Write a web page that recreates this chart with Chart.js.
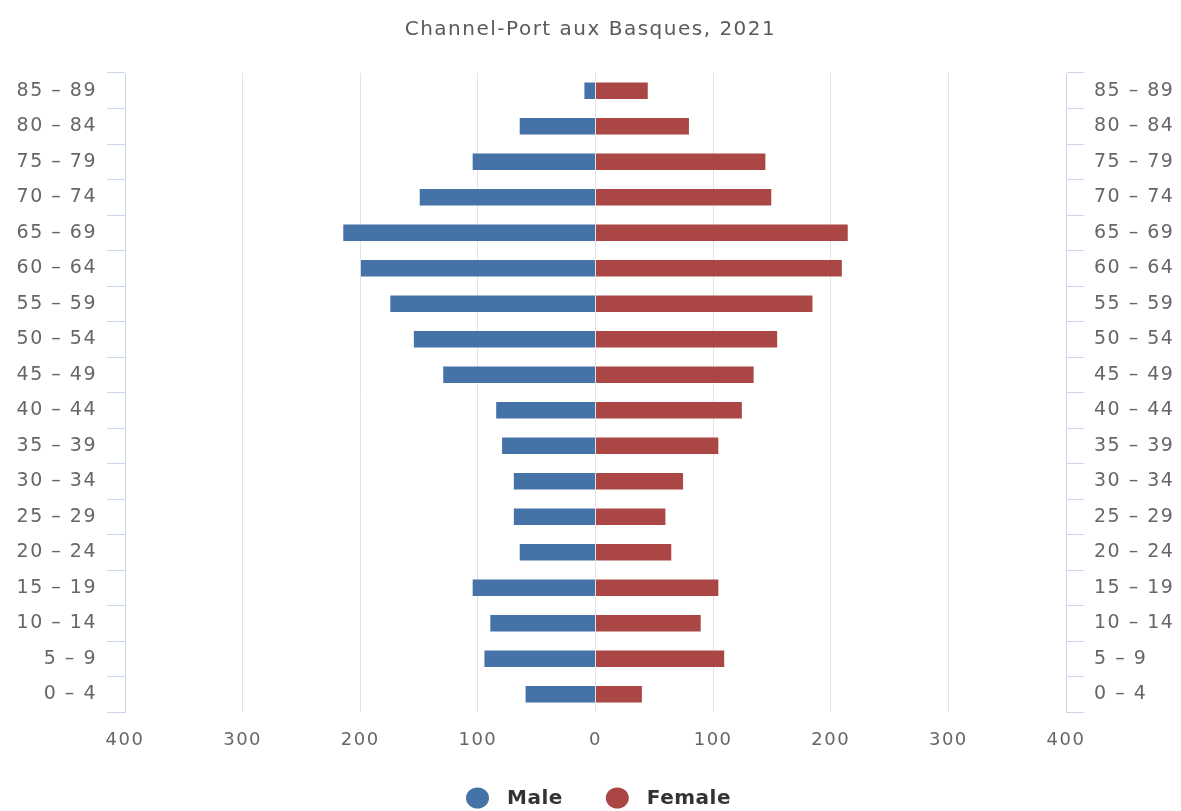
<!DOCTYPE html>
<html>
<head>
<meta charset="utf-8">
<title>Channel-Port aux Basques, 2021</title>
<script src="https://cdn.jsdelivr.net/npm/chart.js@4.4.1/dist/chart.umd.min.js"></script>
<style>
  html, body { margin: 0; padding: 0; background: #ffffff; }
  #pyramid { display: block; }
</style>
</head>
<body>
<canvas id="pyramid" width="1181" height="811"></canvas>
<script>
// Age groups, youngest first (drawn bottom to top)
const ageGroups = ['0 – 4', '5 – 9', '10 – 14', '15 – 19', '20 – 24', '25 – 29', '30 – 34',
  '35 – 39', '40 – 44', '45 – 49', '50 – 54', '55 – 59', '60 – 64', '65 – 69',
  '70 – 74', '75 – 79', '80 – 84', '85 – 89'];

// Population counts per age group
const male   = [60, 95, 90, 105, 65, 70, 70, 80, 85, 130, 155, 175, 200, 215, 150, 105, 65, 10];
const female = [40, 110, 90, 105, 65, 60, 75, 105, 125, 135, 155, 185, 210, 215, 150, 145, 80, 45];

// Value axis ticks (shown as absolute numbers on both sides of zero)
const valueTicks = [-400, -300, -200, -100, 0, 100, 200, 300, 400];

const chartTitle = 'Channel-Port aux Basques, 2021';
const seriesNames = ['Male', 'Female'];
const seriesColors = ['#4572A7', '#AA4643'];

const FONT = '"DejaVu Sans", Verdana, sans-serif';
const LABEL_COLOR = '#666666';
const AXIS_COLOR = '#ccd6eb';
const GRID_COLOR = '#e3e3e3';

// Slightly airy text, applied before every layout and draw pass
const textSpacing = {
  id: 'textSpacing',
  beforeLayout(chart) { chart.ctx.letterSpacing = '1.5px'; },
  beforeDraw(chart) { chart.ctx.letterSpacing = '1.5px'; }
};

// Series key under the axis: filled ovals followed by bold names
const seriesKey = {
  id: 'seriesKey',
  afterDraw(chart) {
    const ctx = chart.ctx;
    const area = chart.chartArea;
    const rx = 11.5, ry = 10.5, gapText = 18, gapItem = 43;
    ctx.save();
    ctx.letterSpacing = '0.5px';
    ctx.font = 'bold 20px ' + FONT;
    ctx.textBaseline = 'middle';
    ctx.textAlign = 'left';
    const items = chart.data.datasets.map(ds => ({
      text: ds.label,
      color: ds.backgroundColor,
      w: ctx.measureText(ds.label).width
    }));
    let total = 0;
    items.forEach((it, i) => { total += rx * 2 + gapText + it.w + (i ? gapItem : 0); });
    let x = (area.left + area.right) / 2 + 3 - total / 2;
    const y = 798;
    items.forEach(it => {
      ctx.fillStyle = it.color;
      ctx.beginPath();
      ctx.ellipse(x + rx, y, rx, ry, 0, 0, Math.PI * 2);
      ctx.fill();
      ctx.fillStyle = '#333333';
      ctx.fillText(it.text, x + rx * 2 + gapText, y + 1);
      x += rx * 2 + gapText + it.w + gapItem;
    });
    ctx.restore();
  }
};

const categoryAxis = (position, width) => ({
  type: 'category',
  position,
  labels: ageGroups,
  reverse: true,
  stacked: true,
  offset: true,
  grid: {
    offset: true,
    drawOnChartArea: false,
    drawTicks: true,
    tickLength: 18,
    color: AXIS_COLOR,
    lineWidth: 1
  },
  border: { display: true, color: AXIS_COLOR, width: 1 },
  ticks: {
    color: LABEL_COLOR,
    font: { family: FONT, size: 19 },
    padding: 10,
    autoSkip: false
  },
  afterFit(scale) { scale.width = width; }
});

new Chart(document.getElementById('pyramid'), {
  type: 'bar',
  data: {
    labels: ageGroups,
    datasets: [
      {
        label: seriesNames[0],
        data: male.map(v => -v),
        backgroundColor: seriesColors[0],
        borderColor: 'rgba(255,255,255,0)',
        borderWidth: 1,
        barThickness: 18,
        yAxisID: 'y'
      },
      {
        label: seriesNames[1],
        data: female,
        backgroundColor: seriesColors[1],
        borderColor: 'rgba(255,255,255,0)',
        borderWidth: 1,
        barThickness: 18,
        yAxisID: 'y'
      }
    ]
  },
  options: {
    indexAxis: 'y',
    responsive: false,
    animation: false,
    events: [],
    layout: { padding: 0 },
    plugins: {
      legend: { display: false },
      tooltip: { enabled: false },
      title: {
        display: true,
        text: chartTitle,
        color: '#5a5a5a',
        font: { family: FONT, size: 20, weight: 'normal' },
        padding: { top: 18, bottom: 31 }
      }
    },
    scales: {
      x: {
        type: 'linear',
        min: valueTicks[0],
        max: valueTicks[valueTicks.length - 1],
        stacked: true,
        afterBuildTicks(scale) { scale.ticks = valueTicks.map(v => ({ value: v })); },
        ticks: {
          callback: v => Math.abs(v),
          color: LABEL_COLOR,
          font: { family: FONT, size: 18 },
          padding: 18,
          maxRotation: 0
        },
        grid: { color: GRID_COLOR, lineWidth: 1, drawTicks: false },
        border: { display: false },
        afterFit(scale) { scale.height = 99; }
      },
      y: categoryAxis('left', 125),
      y2: categoryAxis('right', 115)
    }
  },
  plugins: [textSpacing, seriesKey]
});
</script>
</body>
</html>
